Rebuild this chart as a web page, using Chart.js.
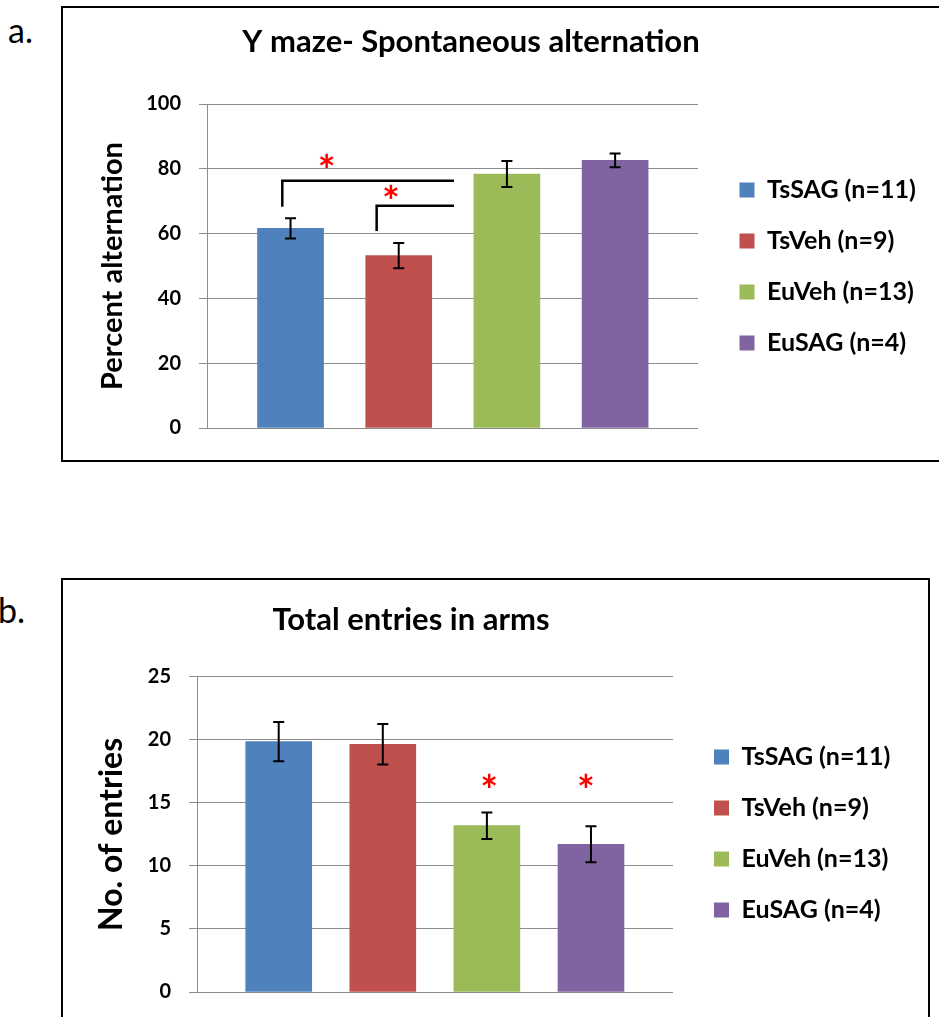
<!DOCTYPE html>
<html>
<head>
<meta charset="utf-8">
<script src="https://cdn.jsdelivr.net/npm/chart.js@4.4.0/dist/chart.umd.min.js"></script>
<style>
    html, body { margin: 0; padding: 0; background: #fff; width: 939px; height: 1017px; overflow: hidden; }
    .frame { position: absolute; border: 2px solid #000; box-sizing: border-box; }
    .panel { position: absolute; font-family: Lato, sans-serif; font-size: 34px; line-height: 34px; color: #000; }
    canvas { position: absolute; left: -200px; }
</style>
</head>
<body>
<div class="frame" style="left:61px; top:6px; width:900px; height:456px;"></div>
<div class="frame" style="left:61px; top:578px; width:869px; height:520px;"></div>
<div class="panel" style="left:8px; top:13px;">a.</div>
<div class="panel" style="left:-2px; top:593px;">b.</div>
<canvas id="mazeChart" width="1200" height="533" style="top:0; width:1200px; height:533px;"></canvas>
<canvas id="entriesChart" width="1200" height="547" style="top:560px; width:1200px; height:547px;"></canvas>

<script>
// ===== DATA =====
const groups = ['TsSAG (n=11)', 'TsVeh (n=9)', 'EuVeh (n=13)', 'EuSAG (n=4)'];
const groupColors = ['#4F81BD', '#C0504D', '#9BBB59', '#8064A2'];
const groupPositions = [1, 2, 3, 4];

const alternationMean = [61.6, 53.2, 78.4, 82.6];
const alternationSem = [3.1, 3.9, 4.0, 2.15];
const alternationTicks = [0, 20, 40, 60, 80, 100];

const entriesMean = [19.85, 19.64, 13.19, 11.71];
const entriesSem = [1.56, 1.6, 1.05, 1.43];
const entriesTicks = [0, 5, 10, 15, 20, 25];

// significance marks (axis units)
const alternationBrackets = [
    { left: 0.924, right: 2.511, top: 76.35, foot: 68.3 },
    { left: 1.796, right: 2.511, top: 68.6, foot: 60.8 }
];
const alternationStars = [[1.334, 82.2], [1.929, 72.5]];
const entriesStars = [[3.023, 16.68], [3.952, 16.68]];

// ===== LAYOUT HELPERS =====
const CANVAS_LEFT = -200;
const CANVAS_WIDTH = 1200;
const LEGEND_PAD = 26;
const LEGEND_BOX = 15;
const LEGEND_FONT = { family: 'Lato', size: 25, weight: 'bold' };
const TITLE_FONT = { family: 'Lato', size: 31, weight: 'bold' };

function legendTextWidth() {
    const c = document.createElement('canvas').getContext('2d');
    c.font = `${LEGEND_FONT.weight} ${LEGEND_FONT.size}px ${LEGEND_FONT.family}`;
    return Math.max(...groups.map(g => c.measureText(g).width));
}

// turn page positions of the Excel frame into chart.js paddings/widths
function frameLayout(f) {
    const legendW = LEGEND_PAD + LEGEND_BOX + LEGEND_FONT.size / 2 + legendTextWidth() + 10;
    const legendLeft = f.boxLeft - LEGEND_PAD;
    const legendRight = legendLeft + legendW;
    const spanLeft = 2 * f.titleCenter - legendRight;
    return {
        padLeft: spanLeft - CANVAS_LEFT,
        padRight: CANVAS_LEFT + CANVAS_WIDTH - legendRight,
        yAxisWidth: f.chartLeft - spanLeft,
        spacerWidth: legendLeft - f.chartRight,
        yTitlePad: f.yTitleX - spanLeft - f.yTitleSize * 0.6
    };
}

// ===== PLUGINS =====
const errorBarsPlugin = {
    id: 'errorBars',
    afterDatasetsDraw(chart) {
        const { ctx } = chart;
        const yScale = chart.scales.y;
        const dataset = chart.data.datasets[0];
        const meta = chart.getDatasetMeta(0);
        ctx.save();
        ctx.strokeStyle = '#000';
        ctx.lineWidth = 2;
        meta.data.forEach((bar, i) => {
            const v = dataset.data[i].y;
            const hi = yScale.getPixelForValue(v + dataset.errors[i]);
            const lo = yScale.getPixelForValue(v - dataset.errors[i]);
            ctx.beginPath();
            ctx.moveTo(bar.x, hi); ctx.lineTo(bar.x, lo);
            ctx.moveTo(bar.x - 5.5, hi); ctx.lineTo(bar.x + 5.5, hi);
            ctx.moveTo(bar.x - 5.5, lo); ctx.lineTo(bar.x + 5.5, lo);
            ctx.stroke();
        });
        ctx.restore();
    }
};

const significancePlugin = {
    id: 'significance',
    afterDatasetsDraw(chart, args, opts) {
        const { ctx } = chart;
        const { x, y } = chart.scales;
        ctx.save();
        ctx.strokeStyle = '#000';
        ctx.lineWidth = 2.5;
        (opts.brackets || []).forEach(b => {
            ctx.beginPath();
            ctx.moveTo(x.getPixelForValue(b.left), y.getPixelForValue(b.foot));
            ctx.lineTo(x.getPixelForValue(b.left), y.getPixelForValue(b.top));
            ctx.lineTo(x.getPixelForValue(b.right), y.getPixelForValue(b.top));
            ctx.stroke();
        });
        ctx.fillStyle = '#FF0000';
        ctx.font = 'bold 42px Lato';
        ctx.textAlign = 'center';
        ctx.textBaseline = 'alphabetic';
        (opts.stars || []).forEach(([sx, sy]) => {
            ctx.fillText('*', x.getPixelForValue(sx), y.getPixelForValue(sy) + 24);
        });
        ctx.restore();
    }
};

// ===== CHART BUILDER =====
function buildChart(canvasId, cfg) {
    const ctx = document.getElementById(canvasId);
    const lay = frameLayout(cfg.frame);
    const titleHalf = TITLE_FONT.size * 0.6;
    return new Chart(ctx, {
        type: 'bar',
        data: {
            datasets: [{
                data: groupPositions.map((p, i) => ({ x: p, y: cfg.means[i] })),
                errors: cfg.sem,
                backgroundColor: groupColors,
                borderWidth: 0,
                barThickness: 66
            }]
        },
        options: {
            responsive: false,
            animation: false,
            events: [],
            layout: { padding: { left: lay.padLeft, right: lay.padRight, top: 0, bottom: 0 } },
            plugins: {
                title: {
                    display: true,
                    text: cfg.title,
                    color: '#000',
                    font: TITLE_FONT,
                    padding: {
                        top: cfg.titleY - titleHalf,
                        bottom: cfg.frame.chartTop - cfg.titleY - titleHalf
                    }
                },
                legend: {
                    position: 'right',
                    align: 'center',
                    maxWidth: 1000,
                    labels: {
                        boxWidth: LEGEND_BOX,
                        boxHeight: LEGEND_BOX,
                        padding: LEGEND_PAD,
                        color: '#000',
                        font: LEGEND_FONT,
                        generateLabels: () => groups.map((g, i) => ({
                            text: g,
                            fillStyle: groupColors[i],
                            strokeStyle: groupColors[i],
                            lineWidth: 0,
                            hidden: false,
                            index: i
                        }))
                    }
                },
                tooltip: { enabled: false },
                significance: { brackets: cfg.brackets, stars: cfg.stars }
            },
            scales: {
                x: {
                    type: 'linear',
                    min: cfg.xMin,
                    max: cfg.xMax,
                    offset: false,
                    grid: { display: false },
                    border: { display: false },
                    ticks: { display: false },
                    afterFit: s => { s.height = cfg.xAxisHeight; }
                },
                y: {
                    min: 0,
                    max: cfg.ticks[cfg.ticks.length - 1],
                    afterBuildTicks: s => { s.ticks = cfg.ticks.map(v => ({ value: v })); },
                    grid: { color: '#8c8c8c', lineWidth: 1, tickLength: 8, drawTicks: true },
                    border: { color: '#8c8c8c', width: 1 },
                    ticks: { padding: 18, color: '#000', font: { family: 'Lato', size: 20, weight: 'bold' } },
                    title: {
                        display: true,
                        text: cfg.yTitle,
                        color: '#000',
                        font: { family: 'Lato', size: cfg.frame.yTitleSize, weight: 'bold' },
                        padding: { top: lay.yTitlePad, bottom: 0 }
                    },
                    afterFit: s => { s.width = lay.yAxisWidth; }
                },
                spacer: {
                    type: 'linear',
                    position: 'right',
                    grid: { display: false },
                    border: { display: false },
                    ticks: { display: false },
                    afterFit: s => { s.width = lay.spacerWidth; }
                }
            }
        },
        plugins: [errorBarsPlugin, significancePlugin]
    });
}

buildChart('mazeChart', {
    title: 'Y maze- Spontaneous alternation',
    yTitle: 'Percent alternation',
    means: alternationMean,
    sem: alternationSem,
    ticks: alternationTicks,
    brackets: alternationBrackets,
    stars: alternationStars,
    titleY: 42,
    frame: { chartLeft: 207, chartRight: 698, chartTop: 104, boxLeft: 739.5, titleCenter: 471, yTitleX: 113, yTitleSize: 29 },
    xMin: 0.228, xMax: 4.766, xAxisHeight: 105
});

buildChart('entriesChart', {
    title: 'Total entries in arms',
    yTitle: 'No. of entries',
    means: entriesMean,
    sem: entriesSem,
    ticks: entriesTicks,
    brackets: [],
    stars: entriesStars,
    titleY: 60,
    frame: { chartLeft: 197, chartRight: 673, chartTop: 116.7, boxLeft: 714, titleCenter: 411, yTitleX: 112, yTitleSize: 32 },
    xMin: 0.215, xMax: 4.788, xAxisHeight: 115
});
</script>
</body>
</html>
